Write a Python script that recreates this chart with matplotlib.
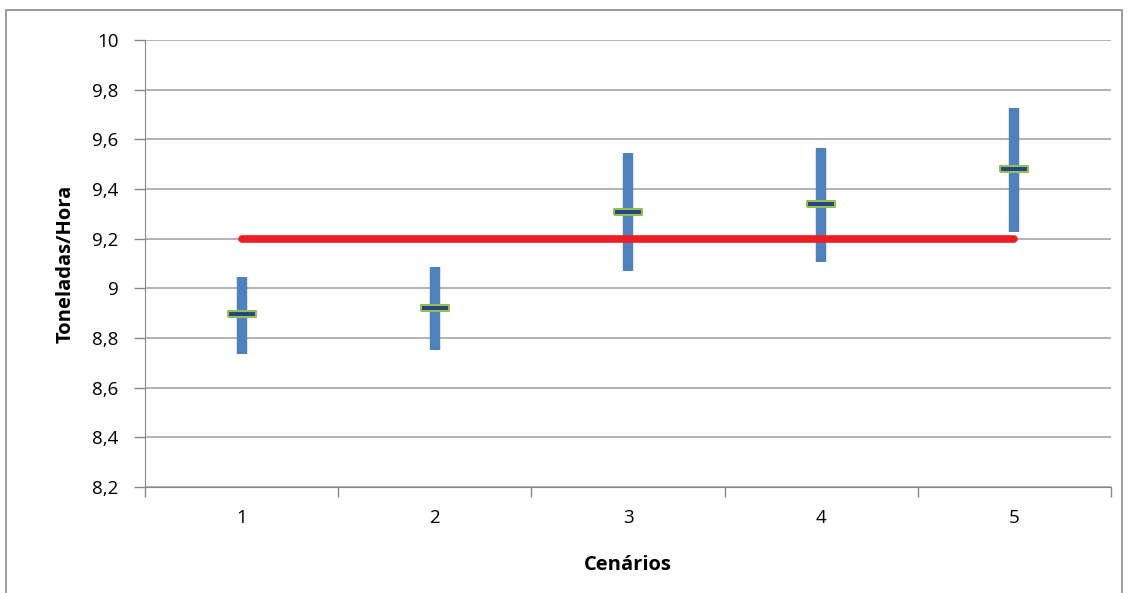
import numpy as np
import matplotlib.pyplot as plt
from matplotlib.patches import Rectangle

plt.rcParams['font.family'] = ['Open Sans', 'DejaVu Sans']

cenarios = [1, 2, 3, 4, 5]
minimos = [8.735, 8.752, 9.070, 9.106, 9.227]
maximos = [9.046, 9.086, 9.545, 9.565, 9.726]
medias = [8.897, 8.921, 9.307, 9.340, 9.480]
meta = 9.2
yticks = [8.2, 8.4, 8.6, 8.8, 9.0, 9.2, 9.4, 9.6, 9.8, 10.0]

fig = plt.figure(figsize=(11.29, 5.93), dpi=100)
ax = fig.add_axes([145/1129, 1 - 487/593, (1111-145)/1129, (487-40)/593])

# borda externa (sem linha inferior visivel)
fig.patches.append(Rectangle((6/1129, -0.05), 1116/1129, 1 - 10/593 + 0.05,
                             transform=fig.transFigure, fill=False,
                             edgecolor='#8c8c8c', linewidth=1.2))

ax.set_ylim(8.2, 10.0)
ax.set_xlim(0.5, 5.5)
ax.set_yticks(yticks)
ax.set_yticklabels([('%.1f' % v).replace('.', ',').replace(',0', '') for v in yticks])
ax.set_xticks(cenarios)
ax.set_xticks(np.arange(0.5, 6.0, 1.0), minor=True)
ax.tick_params(axis='x', which='major', length=0, pad=16, labelsize=13.5)
ax.tick_params(axis='x', which='minor', length=7, color='#888888', width=1)
ax.tick_params(axis='y', length=8, color='#888888', width=1, labelsize=13.5, pad=11)
ax.grid(axis='y', color='#a6a6a6', linewidth=1.2)
ax.set_axisbelow(True)
for s in ['top', 'right']:
    ax.spines[s].set_visible(False)
for s in ['left', 'bottom']:
    ax.spines[s].set_color('#888888')

ax.vlines(cenarios, minimos, maximos, color='#4f81bd', linewidth=7.5, zorder=3)
ax.plot([cenarios[0], cenarios[-1]], [meta, meta], color='#ee1c25', linewidth=5.5,
        solid_capstyle='round', zorder=4)
ret = [(-1, -0.2), (1, -0.2), (1, 0.2), (-1, 0.2), (-1, -0.2)]
ax.plot(cenarios, medias, linestyle='none', marker=ret, markersize=20,
        markerfacecolor='#1f497d', markeredgecolor='#9bbb59', markeredgewidth=1.5, zorder=5)

ax.set_ylabel('Toneladas/Hora', fontsize=14.5, fontweight='bold', labelpad=12)
ax.set_xlabel('Cenários', fontsize=14.5, fontweight='bold', labelpad=20)

fig.savefig('out.png', dpi=100)
